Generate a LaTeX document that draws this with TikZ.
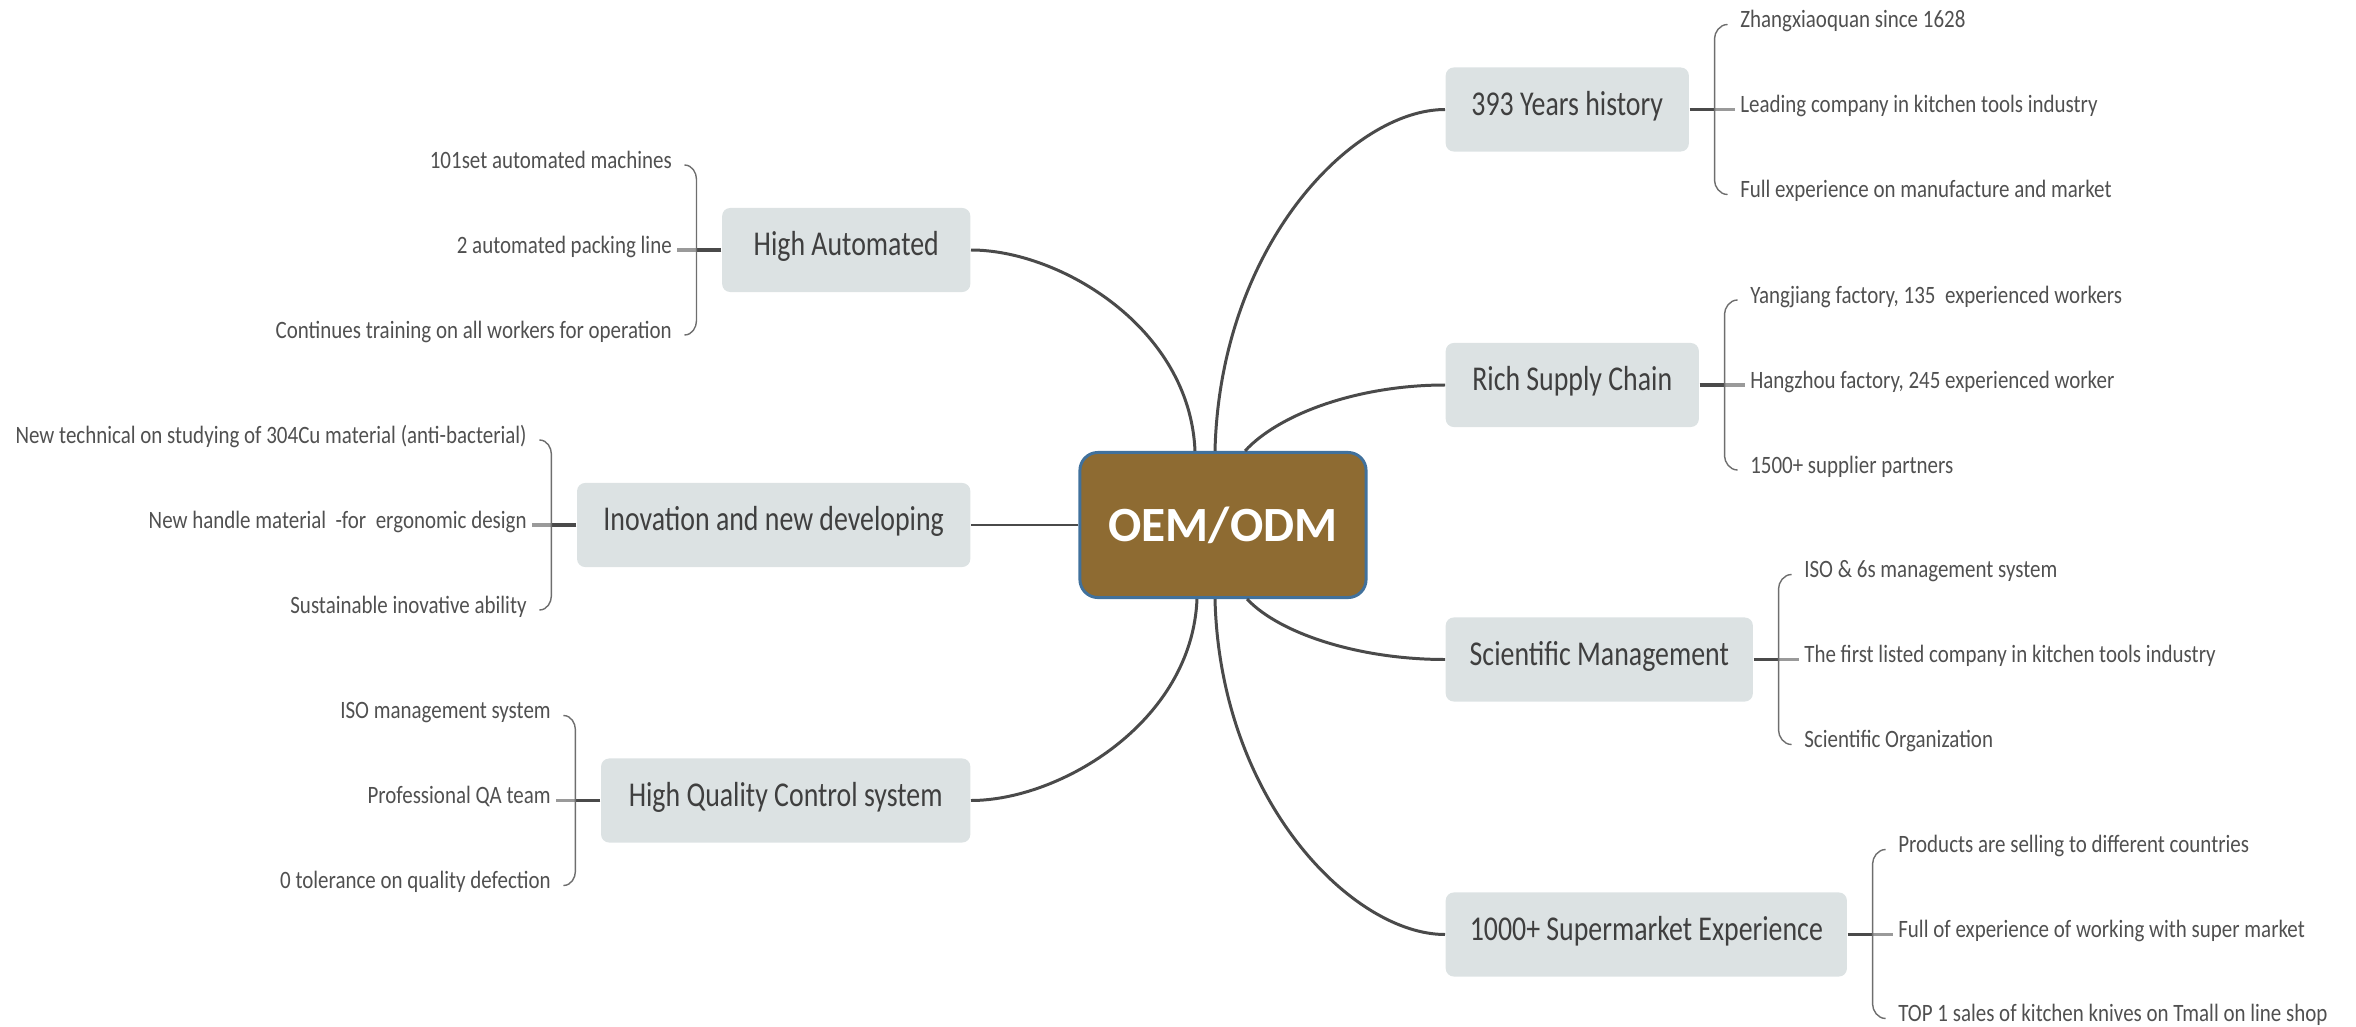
\documentclass[tikz,border=0pt]{standalone}
\usepackage{fontspec}
\setmainfont{Carlito}[FakeStretch=0.8]
\newfontfamily\leaffont{Carlito}[FakeStretch=0.84]
\newfontfamily\hubfont{Carlito}
\usetikzlibrary{calc}
\definecolor{hubfill}{HTML}{8E6B32}
\definecolor{hubedge}{HTML}{41719C}
\definecolor{topicfill}{HTML}{DCE2E3}
\definecolor{topictext}{HTML}{3F3F3F}
\definecolor{leaftext}{HTML}{505050}
\definecolor{linegray}{HTML}{4A4A4A}
\definecolor{stubgray}{HTML}{9A9A9A}

\begin{document}
\begin{tikzpicture}[x=0.01cm, y=-0.01cm]
    \tikzstyle{hub}=[draw=hubedge, line width=0.85pt, fill=hubfill, rounded corners=0.18cm, minimum width=2.86cm, minimum height=1.45cm, text=white, font=\hubfont\bfseries\fontsize{14}{17}\selectfont]
    \tikzstyle{topic}=[fill=topicfill, rounded corners=0.08cm, minimum height=0.84cm, text height=0.22cm, text depth=0.11cm, text=topictext, font=\fontsize{9.9}{12}\selectfont]
    \tikzstyle{leaf}=[inner sep=0pt, text=leaftext, text height=0.15cm, text depth=0.09cm, font=\leaffont\fontsize{7.1}{8.5}\selectfont]
    \tikzstyle{branch}=[draw=linegray, line width=0.85pt]
    \tikzstyle{stem}=[draw=linegray, line width=1.1pt]
    \tikzstyle{stub}=[draw=stubgray, line width=0.9pt]
    \tikzstyle{bracket}=[draw=linegray!80, line width=0.4pt]
    \useasboundingbox (0,0) rectangle (2356,1027);

    \node[hub] (oem) at (1223,525) {OEM/ODM};

    % right side
    \node[topic, minimum width=2.43cm, anchor=west] (years)  at (1445,109.5) {393 Years history};
    \node[topic, minimum width=2.53cm, anchor=west] (supply) at (1445,385)   {Rich Supply Chain};
    \node[topic, minimum width=3.07cm, anchor=west] (mgmt)   at (1445,659.5) {Scientific Management};
    \node[topic, minimum width=4.01cm, anchor=west] (market) at (1445,934.5) {1000+ Supermarket Experience};
    % left side
    \node[topic, minimum width=2.48cm, anchor=east] (auto) at (971,250)   {High Automated};
    \node[topic, minimum width=3.93cm, anchor=east] (inov) at (971,525)   {Inovation and new developing};
    \node[topic, minimum width=3.69cm, anchor=east] (qc)   at (971,800.5) {High Quality Control system};

    \node[leaf, anchor=west] (years1) at ($(years.east)+(50,-85)$) {Zhangxiaoquan since 1628};
    \node[leaf, anchor=west] (years2) at ($(years.east)+(50,0)$)   {Leading company in kitchen tools industry};
    \node[leaf, anchor=west] (years3) at ($(years.east)+(50,85)$)  {Full experience on manufacture and market};
    \node[leaf, anchor=west] (supply1) at ($(supply.east)+(50,-85)$) {Yangjiang factory, 135~ experienced workers};
    \node[leaf, anchor=west] (supply2) at ($(supply.east)+(50,0)$)   {Hangzhou factory, 245 experienced worker};
    \node[leaf, anchor=west] (supply3) at ($(supply.east)+(50,85)$)  {1500+ supplier partners};
    \node[leaf, anchor=west] (mgmt1) at ($(mgmt.east)+(50,-85)$) {ISO \& 6s management system};
    \node[leaf, anchor=west] (mgmt2) at ($(mgmt.east)+(50,0)$)   {The first listed company in kitchen tools industry};
    \node[leaf, anchor=west] (mgmt3) at ($(mgmt.east)+(50,85)$)  {Scientific Organization};
    \node[leaf, anchor=west] (market1) at ($(market.east)+(50,-85)$) {Products are selling to different countries};
    \node[leaf, anchor=west] (market2) at ($(market.east)+(50,0)$)   {Full of experience of working with super market};
    \node[leaf, anchor=west] (market3) at ($(market.east)+(50,84)$)  {TOP 1 sales of kitchen knives on Tmall on line shop};

    \node[leaf, anchor=east] (auto1) at ($(auto.west)+(-49,-85)$) {101set automated machines};
    \node[leaf, anchor=east] (auto2) at ($(auto.west)+(-49,0)$)   {2 automated packing line};
    \node[leaf, anchor=east] (auto3) at ($(auto.west)+(-49,85)$)  {Continues training on all workers for operation};
    \node[leaf, anchor=east] (inov1) at ($(inov.west)+(-49,-85)$) {New technical on studying of 304Cu material (anti-bacterial)};
    \node[leaf, anchor=east] (inov2) at ($(inov.west)+(-49,0)$)   {New handle material~ -for~ ergonomic design};
    \node[leaf, anchor=east] (inov3) at ($(inov.west)+(-49,85)$)  {Sustainable inovative ability};
    \node[leaf, anchor=east] (qc1) at ($(qc.west)+(-49,-85)$) {ISO management system};
    \node[leaf, anchor=east] (qc2) at ($(qc.west)+(-49,0)$)   {Professional QA team};
    \node[leaf, anchor=east] (qc3) at ($(qc.west)+(-49,85)$)  {0 tolerance on quality defection};

    % curves out of the hub
    \draw[branch] ($(oem.north)+(-28,0)$) .. controls +(-5,-123) and +(89,0) .. (auto.east);
    \draw[branch] ($(oem.north)+(-8,0)$) .. controls +(5,-206) and +(-92,0) .. (years.west);
    \draw[branch] ($(oem.north)+(22,0)$) .. controls +(35,-38) and +(-85,0) .. (supply.west);
    \draw[branch] (oem.west) -- (inov.east);
    \draw[branch] ($(oem.south)+(24,0)$) .. controls +(33,35) and +(-85,0) .. (mgmt.west);
    \draw[branch] ($(oem.south)+(-8,0)$) .. controls +(5,202) and +(-92,0) .. (market.west);
    \draw[branch] ($(oem.south)+(-26,0)$) .. controls +(-5,123) and +(89,0) .. (qc.east);

    % brackets
    \foreach \b in {years, supply, mgmt, market} {
      \coordinate (\b-br) at ($(\b.east)+(25,0)$);
      \draw[stem] (\b.east) -- (\b-br);
      \draw[stub] (\b-br) -- ($(\b2.west)+(-5,0)$);
      \draw[bracket] ($(\b1.west)+(-12,0)$) .. controls +(-8,0) and +(0,-6) .. ($(\b-br |- \b1.west)+(0,14)$)
        -- ($(\b-br |- \b3.west)+(0,-14)$) .. controls +(0,6) and +(-8,0) .. ($(\b3.west)+(-12,0)$);
    }
    \foreach \b in {auto, inov, qc} {
      \coordinate (\b-br) at ($(\b.west)+(-25,0)$);
      \draw[stem] (\b.west) -- (\b-br);
      \draw[stub] (\b-br) -- ($(\b2.east)+(5,0)$);
      \draw[bracket] ($(\b1.east)+(12,0)$) .. controls +(8,0) and +(0,-6) .. ($(\b-br |- \b1.east)+(0,14)$)
        -- ($(\b-br |- \b3.east)+(0,-14)$) .. controls +(0,6) and +(8,0) .. ($(\b3.east)+(12,0)$);
    }
\end{tikzpicture}
\end{document}
